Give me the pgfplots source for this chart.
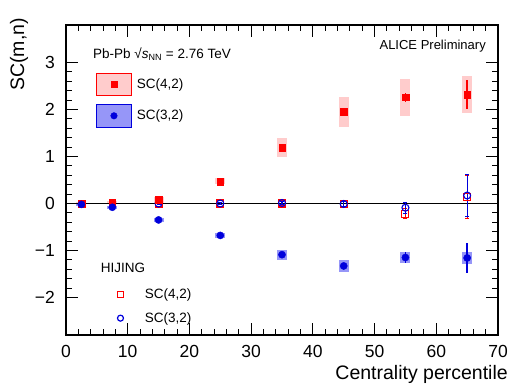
\documentclass[border=0pt]{standalone}
\usepackage{fontspec}
\setmainfont{Liberation Sans}
\usepackage{pgfplots}
\pgfplotsset{compat=1.18}
\usepackage{pgfplotstable}
\definecolor{rootred}{RGB}{255,0,0}
\definecolor{rootblue}{RGB}{0,0,220}
\definecolor{pinkbox}{RGB}{255,204,204}
\definecolor{bluebox}{RGB}{150,150,248}

% ALICE SC(4,2), units 1e-6
\pgfplotstableread{
x    y     stat   syst
2.5  0.00  0.01   0.03
7.5  0.02  0.01   0.04
15   0.08  0.015  0.06
25   0.47  0.02   0.065
35   1.19  0.03   0.20
45   1.95  0.05   0.32
55   2.26  0.10   0.40
65   2.32  0.31   0.40
}\alicefour
% ALICE SC(3,2)
\pgfplotstableread{
x    y      stat   syst
2.5  -0.02  0.01   0.03
7.5  -0.08  0.01   0.035
15   -0.35  0.015  0.04
25   -0.68  0.02   0.05
35   -1.09  0.03   0.11
45   -1.33  0.05   0.13
55   -1.15  0.12   0.12
65   -1.16  0.32   0.12
}\alicethree
% HIJING SC(4,2)
\pgfplotstableread{
x    y      stat
15   0.00   0.02
25   0.00   0.03
35   0.00   0.04
45   -0.02  0.06
55   -0.22  0.11
65   0.14   0.46
}\hijingfour
% HIJING SC(3,2)
\pgfplotstableread{
x    y      stat
15   0.00   0.02
25   0.00   0.03
35   0.01   0.04
45   -0.01  0.05
55   -0.09  0.12
65   0.17   0.45
}\hijingthree

\begin{document}
\begin{tikzpicture}
\begin{axis}[
  scale only axis, width=432pt, height=310pt,
  at={(0,0)}, anchor=south west,
  xmin=0, xmax=70, ymin=-2.8, ymax=3.8,
  xtick={0,10,...,70}, xticklabels={0,10,20,30,40,50,60,70},
  ytick={-2,-1,0,1,2,3}, yticklabels={−2,−1,0,1,2,3},
  minor x tick num=4, minor y tick num=4,
  tick align=inside,
  major tick length=12pt, minor tick length=6pt,
  tick style={black, line width=1pt},
  axis line style={line width=1.3pt},
  tick label style={font=\fontsize{17.5}{20}\selectfont, inner sep=0pt},
  xticklabel style={yshift=-10pt},
  yticklabel style={xshift=-11pt},
  label style={font=\fontsize{19.5}{22}\selectfont, inner sep=0pt},
  xlabel={Centrality percentile},
  ylabel={SC(m,n)},
  xlabel style={at={(axis description cs:1.0231,-0.1447)}, anchor=base east},
  ylabel style={at={(axis description cs:-0.0972,1.0225)}, anchor=base east},
  legend style={at={(axis description cs:0.0694,0.8466)}, anchor=north west,
    draw=none, fill=none, inner sep=0pt, outer sep=0pt, row sep=8pt,
    font=\fontsize{13.5}{15}\selectfont,
    nodes={inner xsep=5pt, inner ysep=0pt}},
  legend cell align=left,
]
% systematic boxes
\addplot[forget plot, only marks, mark=none,
  error bars/.cd, y dir=both, y explicit, error mark=none,
  error bar style={line width=10pt, pinkbox}]
  table[x=x, y=y, y error=syst]{\alicefour};
\addplot[forget plot, only marks, mark=none,
  error bars/.cd, y dir=both, y explicit, error mark=none,
  error bar style={line width=10pt, bluebox}]
  table[x=x, y=y, y error=syst]{\alicethree};
% zero line
\addplot[forget plot, black, line width=1.6pt] coordinates {(0,0) (70,0)};
% HIJING
\addplot[forget plot, only marks, color=rootred, mark=square, mark size=3.5pt,
  mark options={solid, draw=rootred, fill=none, line width=1.1pt},
  error bars/.cd, y dir=both, y explicit, error mark=-,
  error mark options={rotate=90, mark size=2pt, line width=1pt, draw=rootred},
  error bar style={line width=1.2pt, draw=rootred}]
  table[x=x, y=y, y error=stat]{\hijingfour};
\addplot[forget plot, only marks, color=rootblue, mark=o, mark size=3.5pt,
  mark options={solid, draw=rootblue, fill=none, line width=1.1pt},
  error bars/.cd, y dir=both, y explicit, error mark=-,
  error mark options={rotate=90, mark size=2pt, line width=1pt, draw=rootblue},
  error bar style={line width=1.2pt, draw=rootblue}]
  table[x=x, y=y, y error=stat]{\hijingthree};
% ALICE
\addplot[forget plot, only marks, color=rootred, mark=square*, mark size=3.3pt,
  error bars/.cd, y dir=both, y explicit, error mark=none,
  error bar style={line width=1.5pt}]
  table[x=x, y=y, y error=stat]{\alicefour};
\addplot[forget plot, only marks, color=rootblue, mark=*, mark size=3.6pt,
  error bars/.cd, y dir=both, y explicit, error mark=none,
  error bar style={line width=1.5pt}]
  table[x=x, y=y, y error=stat]{\alicethree};
% legend: ALICE boxes, spacer, HIJING markers
\addlegendimage{legend image code/.code={
  \draw[fill=pinkbox, draw=rootred, line width=1pt] (0pt,-11.25pt) rectangle (35pt,11.25pt);
  \fill[rootred] (14.5pt,-3pt) rectangle (20.5pt,3pt);}}
\addlegendentry{SC(4,2)}
\addlegendimage{legend image code/.code={
  \draw[fill=bluebox, draw=rootblue, line width=1pt] (0pt,-11.25pt) rectangle (35pt,11.25pt);
  \fill[rootblue] (17.5pt,0pt) circle (3.3pt);}}
\addlegendentry{SC(3,2)}
\addlegendimage{legend image code/.code={
  \path[draw=none, fill=none] (0pt,-71.3pt) rectangle (1pt,71.3pt);}}
\addlegendentry{}
\addlegendimage{legend image code/.code={
  \path[draw=none, fill=none] (0pt,-8pt) rectangle (1pt,8pt);
  \draw[draw=rootred, fill=none, line width=1.2pt] (21pt,-3pt) rectangle (27pt,3pt);}}
\addlegendentry{\hspace*{8pt}SC(4,2)}
\addlegendimage{legend image code/.code={
  \path[draw=none, fill=none] (0pt,-8pt) rectangle (1pt,8pt);
  \draw[draw=rootblue, fill=none, line width=1.2pt] (24pt,0pt) circle (3pt);}}
\addlegendentry{\hspace*{8pt}SC(3,2)}
% texts
\node[anchor=base west, inner sep=0pt, font=\fontsize{13.5}{15}\selectfont]
  at (axis description cs:0.0625,0.8923)
  {Pb-Pb √\textit{s}\textsubscript{\fontsize{9}{10}\selectfont NN} = 2.76 TeV};
\node[anchor=base east, inner sep=0pt, font=\fontsize{13}{15}\selectfont]
  at (axis description cs:0.9722,0.9196) {ALICE Preliminary};
\node[anchor=base west, inner sep=0pt, font=\fontsize{15.4}{17}\selectfont]
  at (axis description cs:-0.0023,1.0042) {×10\textsuperscript{−6}};
\node[anchor=west, inner sep=0pt, font=\fontsize{13.5}{15}\selectfont]
  at (axis description cs:0.0803,0.2154) {HIJING};
\end{axis}
\pgfresetboundingbox
\path[use as bounding box] (-66pt,-50pt) rectangle (444pt,335pt);
\end{tikzpicture}
\end{document}
